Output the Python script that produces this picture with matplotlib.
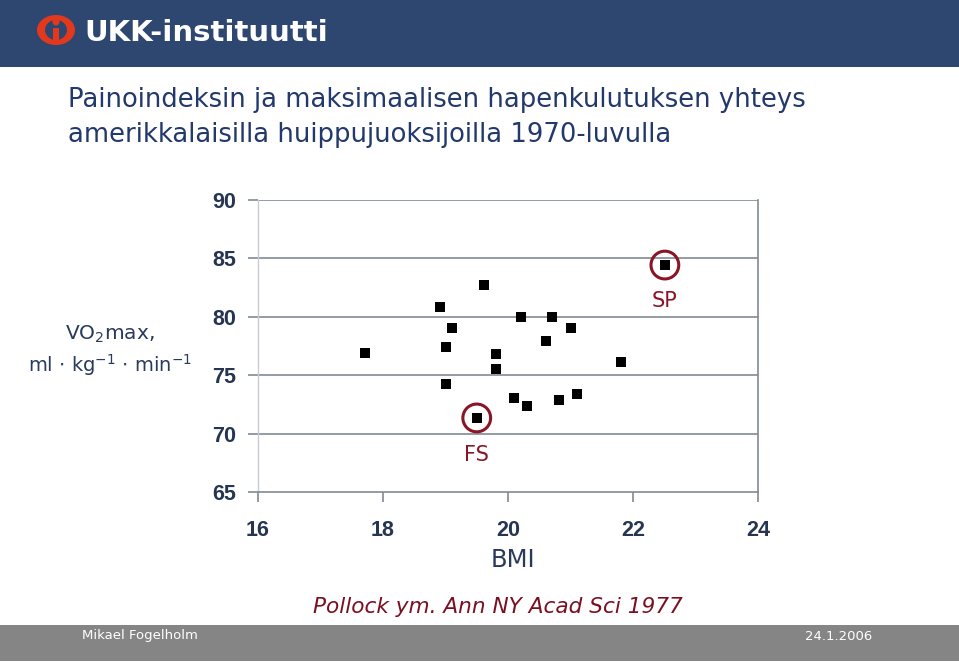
import matplotlib
matplotlib.use("Agg")
import matplotlib.pyplot as plt
from matplotlib.patches import Rectangle, Ellipse

# ---- data ----
bmi = [17.71, 18.91, 19.61, 19.1, 19.0, 19.0, 19.81, 19.81, 19.5, 20.1, 20.31,
       20.21, 20.7, 20.6, 21.0, 20.81, 21.11, 21.81, 22.51]
vo2 = [76.9, 80.84, 82.74, 79.03, 77.43, 74.24, 76.82, 75.55, 71.34, 73.05, 72.4,
       80.0, 80.0, 77.94, 79.03, 72.88, 73.4, 76.12, 84.43]
highlight_bmi = [19.5, 22.51]
highlight_vo2 = [71.34, 84.43]
highlight_labels = ["FS", "SP"]
x_ticks = [16, 18, 20, 22, 24]
y_ticks = [65, 70, 75, 80, 85, 90]

W, H = 959, 663
fig = plt.figure(figsize=(W / 100, H / 100), dpi=100)
fig.patch.set_facecolor("white")

def fx(px):
    return px / W

def fy(py):
    return 1 - py / H

# header band
fig.patches.append(Rectangle((0, fy(67)), 1, 67 / H, transform=fig.transFigure,
                             facecolor="#2e4770", edgecolor="none", zorder=0))
# logo
fig.patches.append(Ellipse((fx(56), fy(30)), 38 / W, 30 / H, transform=fig.transFigure,
                           facecolor="#e2381c", edgecolor="none", zorder=1))
fig.patches.append(Ellipse((fx(56), fy(30)), 22 / W, 20 / H, transform=fig.transFigure,
                           facecolor="#2e4770", edgecolor="none", zorder=1))
fig.patches.append(Rectangle((fx(53), fy(42)), 6 / W, 14 / H, transform=fig.transFigure,
                             facecolor="#e2381c", edgecolor="none", zorder=2))
fig.patches.append(Ellipse((fx(56), fy(22)), 7 / W, 7 / H, transform=fig.transFigure,
                           facecolor="#e2381c", edgecolor="none", zorder=2))
fig.text(fx(84), fy(33), "UKK-instituutti", color="white", fontsize=21, fontweight="bold",
         family="DejaVu Sans", va="center", ha="left")

# title
title_color = "#23396b"
fig.text(fx(68), fy(100), "Painoindeksin ja maksimaalisen hapenkulutuksen yhteys",
         color=title_color, fontsize=18.6, family="DejaVu Sans", va="center", ha="left")
fig.text(fx(68), fy(135), "amerikkalaisilla huippujuoksijoilla 1970-luvulla",
         color=title_color, fontsize=18.6, family="DejaVu Sans", va="center", ha="left")

# footer
fig.patches.append(Rectangle((0, fy(661)), 1, 36 / H, transform=fig.transFigure,
                             facecolor="#858585", edgecolor="none", zorder=0))
fig.text(fx(82), fy(636), "Mikael Fogelholm", color="white", fontsize=9.5,
         family="DejaVu Sans", va="center", ha="left")
fig.text(fx(872), fy(636), "24.1.2006", color="white", fontsize=9.5,
         family="DejaVu Sans", va="center", ha="right")

# axes
ax = fig.add_axes([fx(258), fy(492), (758 - 258) / W, (492 - 200) / H])
ax.set_xlim(16, 24)
ax.set_ylim(65, 90)
ax.set_facecolor("none")
grid_c = "#808a96"
for y in y_ticks[1:]:
    ax.axhline(y, color=grid_c, lw=1.2, zorder=1)
ax.spines["top"].set_visible(False)
ax.spines["left"].set_color("#c8ccd2")
ax.spines["left"].set_linewidth(1.0)
ax.spines["right"].set_color(grid_c)
ax.spines["right"].set_linewidth(1.2)
ax.spines["bottom"].set_color(grid_c)
ax.spines["bottom"].set_linewidth(1.2)
ax.set_xticks(x_ticks)
ax.set_yticks(y_ticks)
tick_c = "#253552"
ax.tick_params(axis="x", direction="out", length=7, width=1.2, color=grid_c,
               labelsize=15.5, labelcolor=tick_c, pad=13)
ax.tick_params(axis="y", direction="out", length=7, width=1.2, color=grid_c,
               labelsize=15.5, labelcolor=tick_c, pad=9)
for lab in ax.get_xticklabels() + ax.get_yticklabels():
    lab.set_fontweight("bold")
    lab.set_family("Liberation Sans")

ax.scatter(bmi, vo2, marker="s", s=42, color="black", zorder=3, linewidths=0)
dark_red = "#8a1526"
ax.scatter(highlight_bmi, highlight_vo2, marker="o", s=400, facecolors="none",
           edgecolors=dark_red, linewidths=2.2, zorder=4)
ax.annotate(highlight_labels[0], (highlight_bmi[0], highlight_vo2[0]), xytext=(0, -27),
            textcoords="offset points", ha="center", va="center", color=dark_red,
            fontsize=15, family="DejaVu Sans")
ax.annotate(highlight_labels[1], (highlight_bmi[1], highlight_vo2[1]), xytext=(0, -26),
            textcoords="offset points", ha="center", va="center", color=dark_red,
            fontsize=15, family="DejaVu Sans")

# axis titles
lab_c = "#2a3a5c"
fig.text(fx(110), fy(334), r"VO$_2$max,", color=lab_c, fontsize=14.5,
         family="DejaVu Sans", ha="center", va="center")
fig.text(fx(110), fy(365), r"ml $\cdot$ kg$^{-1}$ $\cdot$ min$^{-1}$", color=lab_c,
         fontsize=14, family="DejaVu Sans", ha="center", va="center")
fig.text(fx(513), fy(560), "BMI", color=lab_c, fontsize=17.5, family="DejaVu Sans",
         ha="center", va="center")

fig.text(fx(498), fy(607), "Pollock ym. Ann NY Acad Sci 1977", color="#7a0f22",
         fontsize=15.6, family="DejaVu Sans", style="italic", ha="center", va="center")

fig.savefig("out.png", dpi=100, facecolor="white")
